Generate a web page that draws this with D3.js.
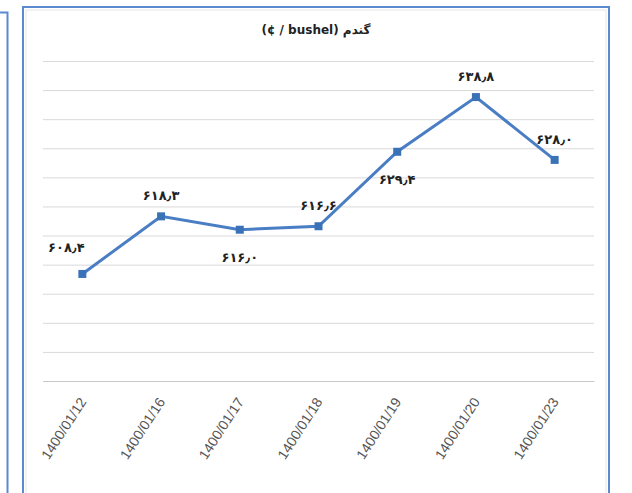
<!DOCTYPE html>
<html>
<head>
<meta charset="utf-8">
<script src="https://cdn.jsdelivr.net/npm/d3@7"></script>
<style>
  body { margin: 0; background: #fff; }
</style>
</head>
<body>
<div id="chart"></div>
<script>
// data
var dates = ['1400/01/12', '1400/01/16', '1400/01/17', '1400/01/18', '1400/01/19', '1400/01/20', '1400/01/23'];
var prices = [608.4, 618.3, 616.0, 616.6, 629.4, 638.8, 628.0];
var priceLabels = ['۶۰۸٫۴', '۶۱۸٫۳', '۶۱۶٫۰', '۶۱۶٫۶', '۶۲۹٫۴', '۶۳۸٫۸', '۶۲۸٫۰'];
var labelSide = ['left', 'above', 'below', 'above', 'below', 'above', 'above'];
var gridTicks = [590, 595, 600, 605, 610, 615, 620, 625, 630, 635, 640, 645];

var W = 632, H = 493;
var margin = { top: 61, right: 38, bottom: 112, left: 43 },
    width = W - margin.left - margin.right,
    height = H - margin.top - margin.bottom;

var svg = d3.select('#chart')
  .append('svg')
    .attr('width', W)
    .attr('height', H);

// frames
svg.append('path')
  .attr('d', 'M0,12.5 H7.5 V493')
  .attr('fill', 'none')
  .attr('stroke', '#5b8ad0')
  .attr('stroke-width', 2);
svg.append('rect')
  .attr('x', 23).attr('y', 7)
  .attr('width', 586).attr('height', 500)
  .attr('fill', 'none')
  .attr('stroke', '#5b8ad0')
  .attr('stroke-width', 2);
svg.append('rect')
  .attr('x', 26).attr('y', 10)
  .attr('width', 580).attr('height', 500)
  .attr('fill', 'none')
  .attr('stroke', '#e6e6e6')
  .attr('stroke-width', 1);

var g = svg.append('g')
  .attr('transform', 'translate(' + margin.left + ',' + margin.top + ')');

var x = d3.scalePoint()
  .domain(dates)
  .range([0, width])
  .padding(0.5);

var y = d3.scaleLinear()
  .domain([590, 645])
  .range([height, 0]);

// gridlines
g.append('g')
  .call(d3.axisLeft(y).tickValues(gridTicks).tickSize(-width).tickFormat(''))
  .call(function(a) { a.select('.domain').remove(); })
  .selectAll('line')
    .attr('stroke', '#d9d9d9');

// x axis
var xAxis = g.append('g')
  .attr('transform', 'translate(0,' + height + ')')
  .call(d3.axisBottom(x).tickSize(0).tickPadding(0));
xAxis.select('.domain').attr('stroke', '#c8c8c8');
xAxis.selectAll('text')
  .attr('font-family', 'Liberation Sans Narrow, Liberation Sans, Arial, sans-serif')
  .attr('font-size', '14px')
  .attr('fill', '#555')
  .attr('text-anchor', 'end')
  .attr('y', 0)
  .attr('dy', '0.35em')
  .attr('transform', 'translate(0,18) rotate(-57)');

// line
var line = d3.line()
  .x(function(d, i) { return x(dates[i]); })
  .y(function(d) { return y(d); });

g.append('path')
  .datum(prices)
  .attr('fill', 'none')
  .attr('stroke', '#4a7ec4')
  .attr('stroke-width', 3)
  .attr('d', line);

g.selectAll('.pt')
  .data(prices)
  .enter()
  .append('rect')
    .attr('class', 'pt')
    .attr('x', function(d, i) { return x(dates[i]) - 4; })
    .attr('y', function(d) { return y(d) - 4; })
    .attr('width', 8)
    .attr('height', 8)
    .attr('fill', '#3a72b8');

// value labels
g.selectAll('.lbl')
  .data(prices)
  .enter()
  .append('text')
    .attr('class', 'lbl')
    .attr('x', function(d, i) {
      return labelSide[i] === 'left' ? x(dates[i]) - 16 : x(dates[i]);
    })
    .attr('y', function(d, i) {
      if (labelSide[i] === 'above') return y(d) - 16;
      if (labelSide[i] === 'below') return y(d) + 32;
      return y(d) - 22;
    })
    .attr('text-anchor', 'middle')
    .attr('font-family', 'DejaVu Sans, sans-serif')
    .attr('font-weight', 'bold')
    .attr('font-size', '13px')
    .attr('fill', '#222')
    .text(function(d, i) { return priceLabels[i]; });

// title
svg.append('text')
  .attr('x', 316)
  .attr('y', 34)
  .attr('text-anchor', 'middle')
  .attr('font-family', 'DejaVu Sans, sans-serif')
  .attr('font-weight', 'bold')
  .attr('font-size', '12px')
  .attr('fill', '#222')
  .attr('direction', 'ltr')
  .text('(¢ / bushel) گندم');
</script>
</body>
</html>
